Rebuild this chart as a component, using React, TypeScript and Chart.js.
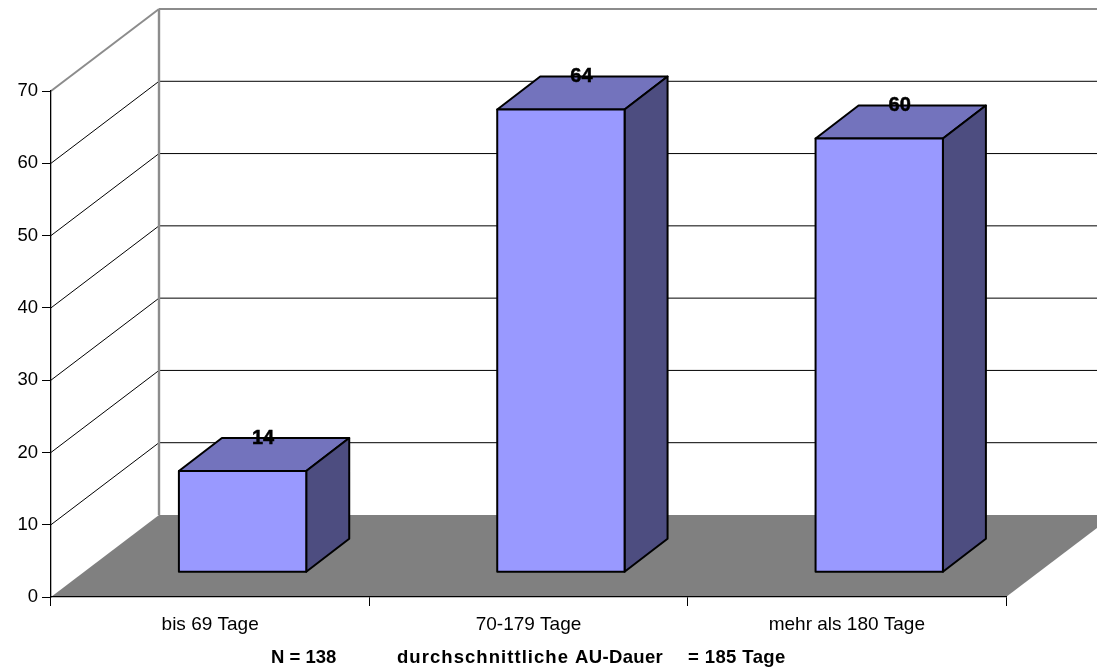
import React, { useEffect, useRef } from "react";
import { Chart, registerables } from "chart.js";

Chart.register(...registerables);

const categories = ["bis 69 Tage", "70-179 Tage", "mehr als 180 Tage"];
const counts = [14, 64, 60];
const yMax = 70;
const yStep = 10;

// Footer text runs: wording, left edge, extra tracking.
const captionTexts = ["N = 138", "durchschnittliche", "AU-Dauer", "= 185 Tage"];
const captionLefts = [271, 397, 575, 688];
const captionTracking = [0, 1.05, 0.35, 0.4];

// Oblique projection of the box: full depth of the floor, then the
// offset of the bar's front face and the depth of the bar itself.
const WALL_DX = 108;
const WALL_DY = -82;
const BAR_DX = 32.4;
const BAR_DY = -24.8;
const BAR_DEPTH_X = 43;
const BAR_DEPTH_Y = -33;
const BAR_BORDER = 2;

const FRONT = "#9999FF";
const TOP = "#7373BD";
const SIDE = "#4D4D80";
const FLOOR = "#808080";
const WALL_EDGE = "#8C8C8C";
const FONT = '"Liberation Sans", Arial, sans-serif';

const polygon = (ctx: CanvasRenderingContext2D, pts: number[][]) => {
  ctx.beginPath();
  pts.forEach(([x, y], i) => (i ? ctx.lineTo(x, y) : ctx.moveTo(x, y)));
  ctx.closePath();
};

const segment = (ctx: CanvasRenderingContext2D, a: number[], b: number[], color: string, w: number) => {
  ctx.strokeStyle = color;
  ctx.lineWidth = w;
  ctx.beginPath();
  ctx.moveTo(a[0], a[1]);
  ctx.lineTo(b[0], b[1]);
  ctx.stroke();
};

// Floor, back wall and the gridlines that run along the side and back walls.
const roomPlugin = {
  id: "room",
  beforeDraw(chart: any) {
    const { ctx, scales } = chart;
    const { x: xs, y: ys } = scales;
    const left = xs.left;
    const right = xs.right;
    const y0 = ys.getPixelForValue(0);
    ctx.save();
    ctx.fillStyle = FLOOR;
    polygon(ctx, [
      [left, y0],
      [left + WALL_DX, y0 + WALL_DY],
      [right + WALL_DX, y0 + WALL_DY],
      [right, y0],
    ]);
    ctx.fill();
    for (let v = yStep; v <= yMax; v += yStep) {
      const y = ys.getPixelForValue(v);
      const edge = v === yMax ? WALL_EDGE : "#000000";
      const w = v === yMax ? 2 : 1;
      segment(ctx, [left, y], [left + WALL_DX, y + WALL_DY], edge, w);
      segment(ctx, [left + WALL_DX, y + WALL_DY], [right + WALL_DX, y + WALL_DY], edge, w);
    }
    segment(
      ctx,
      [left + WALL_DX, ys.getPixelForValue(yMax) + WALL_DY],
      [left + WALL_DX, y0 + WALL_DY],
      WALL_EDGE,
      2.4
    );
    ctx.restore();
  },
};

// Shifts the library's bars back onto the floor and adds their top and side faces.
const boxPlugin = {
  id: "box",
  beforeDatasetDraw(chart: any, args: any) {
    const { ctx } = chart;
    ctx.save();
    ctx.translate(BAR_DX, BAR_DY);
    ctx.lineJoin = "round";
    ctx.strokeStyle = "#000000";
    ctx.lineWidth = BAR_BORDER;
    args.meta.data.forEach((bar: any) => {
      const l = bar.x - bar.width / 2;
      const r = bar.x + bar.width / 2;
      const t = bar.y;
      const b = bar.base;
      polygon(ctx, [
        [l, t],
        [l + BAR_DEPTH_X, t + BAR_DEPTH_Y],
        [r + BAR_DEPTH_X, t + BAR_DEPTH_Y],
        [r, t],
      ]);
      ctx.fillStyle = TOP;
      ctx.fill();
      ctx.stroke();
      polygon(ctx, [
        [r, t],
        [r + BAR_DEPTH_X, t + BAR_DEPTH_Y],
        [r + BAR_DEPTH_X, b + BAR_DEPTH_Y],
        [r, b],
      ]);
      ctx.fillStyle = SIDE;
      ctx.fill();
      ctx.stroke();
    });
  },
  afterDatasetDraw(chart: any, args: any) {
    const { ctx } = chart;
    // Outline of the front faces, centred on the bar's edges.
    args.meta.data.forEach((bar: any) => {
      ctx.strokeRect(bar.x - bar.width / 2, bar.y, bar.width, bar.base - bar.y);
    });
    ctx.restore();
  },
  afterDatasetsDraw(chart: any) {
    const { ctx } = chart;
    const meta = chart.getDatasetMeta(0);
    ctx.save();
    ctx.fillStyle = "#000000";
    ctx.strokeStyle = "#000000";
    ctx.lineWidth = 0.5;
    ctx.textBaseline = "middle";
    ctx.textAlign = "center";
    ctx.font = `bold 20px ${FONT}`;
    meta.data.forEach((bar: any, i: number) => {
      const x = bar.x + BAR_DX + BAR_DEPTH_X / 2 - 1;
      const y = bar.y + BAR_DY + BAR_DEPTH_Y;
      ctx.fillText(String(counts[i]), x, y);
      ctx.strokeText(String(counts[i]), x, y);
    });

    // Footer with the sample size and the mean duration.
    ctx.textAlign = "left";
    ctx.font = `bold 18.5px ${FONT}`;
    captionTexts.forEach((text, i) => {
      (ctx as any).letterSpacing = `${captionTracking[i]}px`;
      ctx.fillText(text, captionLefts[i], 658);
    });
    ctx.restore();
  },
};

export default function App() {
  const ref = useRef<HTMLCanvasElement>(null);

  useEffect(() => {
    const chart = new Chart(ref.current as HTMLCanvasElement, {
      type: "bar",
      data: {
        labels: categories,
        datasets: [
          {
            data: counts,
            backgroundColor: FRONT,
            borderWidth: 0,
            barPercentage: 0.4,
            categoryPercentage: 1,
            clip: false,
          },
        ],
      },
      options: {
        animation: false,
        responsive: false,
        layout: { padding: { top: 91, right: 91, left: 0, bottom: 0 } },
        plugins: { legend: { display: false }, tooltip: { enabled: false } },
        scales: {
          x: {
            grid: {
              offset: true,
              drawOnChartArea: false,
              color: "#000000",
              tickColor: "#000000",
              tickLength: 9,
            },
            border: { color: "#000000", width: 1.3 },
            ticks: { color: "#000000", font: { family: FONT, size: 19 }, padding: 7, maxRotation: 0 },
            afterFit(scale: any) {
              scale.height = 72;
            },
          },
          y: {
            min: 0,
            max: yMax,
            ticks: {
              stepSize: yStep,
              color: "#000000",
              font: { family: FONT, size: 18.5 },
              padding: 4,
            },
            grid: { drawOnChartArea: false, color: "#000000", tickColor: "#000000", tickLength: 9 },
            border: { color: "#000000", width: 1.3 },
            afterFit(scale: any) {
              scale.width = 51;
            },
          },
        },
      },
      plugins: [roomPlugin, boxPlugin],
    } as any);
    return () => chart.destroy();
  }, []);

  return (
    <div style={{ position: "fixed", left: 0, top: 0 }}>
      <canvas ref={ref} width={1097} height={669} style={{ display: "block" }} />
    </div>
  );
}
